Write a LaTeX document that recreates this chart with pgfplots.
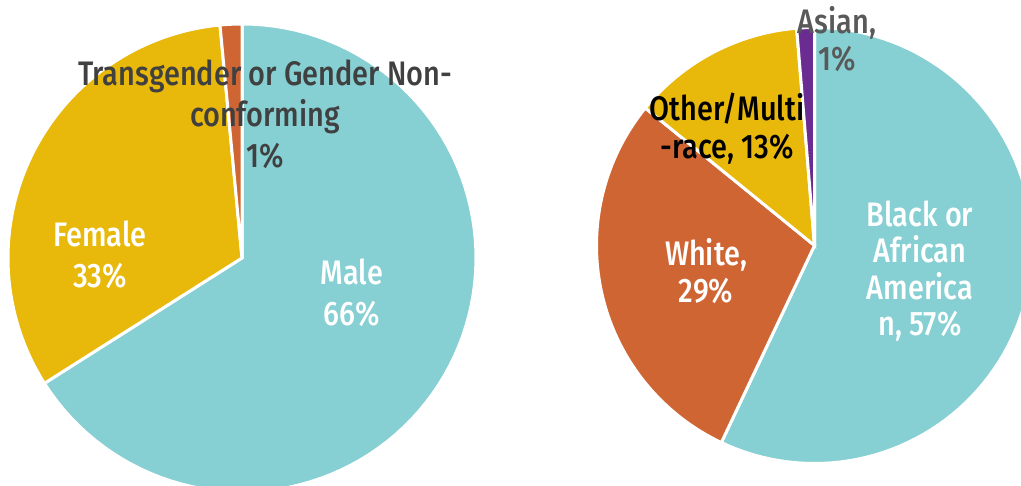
\documentclass[border=0pt]{standalone}
\usepackage{pgfplots}
\pgfplotsset{compat=1.18}
\usepackage{fontspec}
\setmainfont{Fira Sans Medium}[FakeStretch=0.85]

\definecolor{cTeal}{HTML}{86CFD3}
\definecolor{cGold}{HTML}{E8B80A}
\definecolor{cRust}{HTML}{D06534}
\definecolor{cPurple}{HTML}{6A2C91}
\definecolor{cDark}{HTML}{404040}
\definecolor{cGrey}{HTML}{595959}

\tikzset{
    slice/.style={draw=white, line width=3pt, samples=90, variable=\t},
    lbl/.style={align=center, inner sep=0pt, font=\fontsize{34}{41}\selectfont},
    lblr/.style={align=center, inner sep=0pt, font=\fontsize{34}{37.5}\selectfont},
}

\begin{document}
\begin{tikzpicture}
\begin{axis}[
    width=1021pt, height=486pt, scale only axis,
    xmin=0, xmax=1021, ymin=0, ymax=486,
    hide axis, clip=true,
]
% gender: Male 66%, Female 32.5%, Transgender 1.5% (clockwise from top)
% centre (242,228), radius 234
\addplot[slice, fill=cTeal, domain=-147.6:90] ({242+234*cos(\t)},{228+234*sin(\t)}) -- (axis cs:242,228) -- cycle;
\addplot[slice, fill=cGold, domain=95.4:212.4] ({242+234*cos(\t)},{228+234*sin(\t)}) -- (axis cs:242,228) -- cycle;
\addplot[slice, fill=cRust, domain=90:95.4, samples=10] ({242+234*cos(\t)},{228+234*sin(\t)}) -- (axis cs:242,228) -- cycle;

% race: Black 57%, White 28.8%, Other/Multi 12.9%, Asian 1.3%
% centre (814.5,240.5), radius 218
\addplot[slice, fill=cTeal, domain=-115.3:90] ({814.5+218*cos(\t)},{240.5+218*sin(\t)}) -- (axis cs:814.5,240.5) -- cycle;
\addplot[slice, fill=cRust, domain=140.9:244.7] ({814.5+218*cos(\t)},{240.5+218*sin(\t)}) -- (axis cs:814.5,240.5) -- cycle;
\addplot[slice, fill=cGold, domain=94.7:140.9] ({814.5+218*cos(\t)},{240.5+218*sin(\t)}) -- (axis cs:814.5,240.5) -- cycle;
\addplot[slice, fill=cPurple, domain=90:94.7, samples=10] ({814.5+218*cos(\t)},{240.5+218*sin(\t)}) -- (axis cs:814.5,240.5) -- cycle;

% labels
\node[lbl, text=cDark] at (axis cs:265,372) {Transgender or Gender Non-\\conforming\\1\%};
\node[lbl, text=white] at (axis cs:100,231.5) {Female\\33\%};
\node[lbl, text=white] at (axis cs:352,193.5) {Male\\66\%};
\node[lblr, text=cGrey] at (axis cs:837,447) {Asian,\\1\%};
\node[lblr, text=black] at (axis cs:727,357.5) {Other/Multi\\-race, 13\%};
\node[lblr, text=white] at (axis cs:706,215) {White,\\29\%};
\node[lblr, text=white, font=\fontsize{34}{36.5}\selectfont] at (axis cs:920,215) {Black or\\African\\America\\n, 57\%};
\end{axis}
\pgfresetboundingbox
\useasboundingbox (current axis.south west) rectangle (current axis.north east);
\end{tikzpicture}
\end{document}
